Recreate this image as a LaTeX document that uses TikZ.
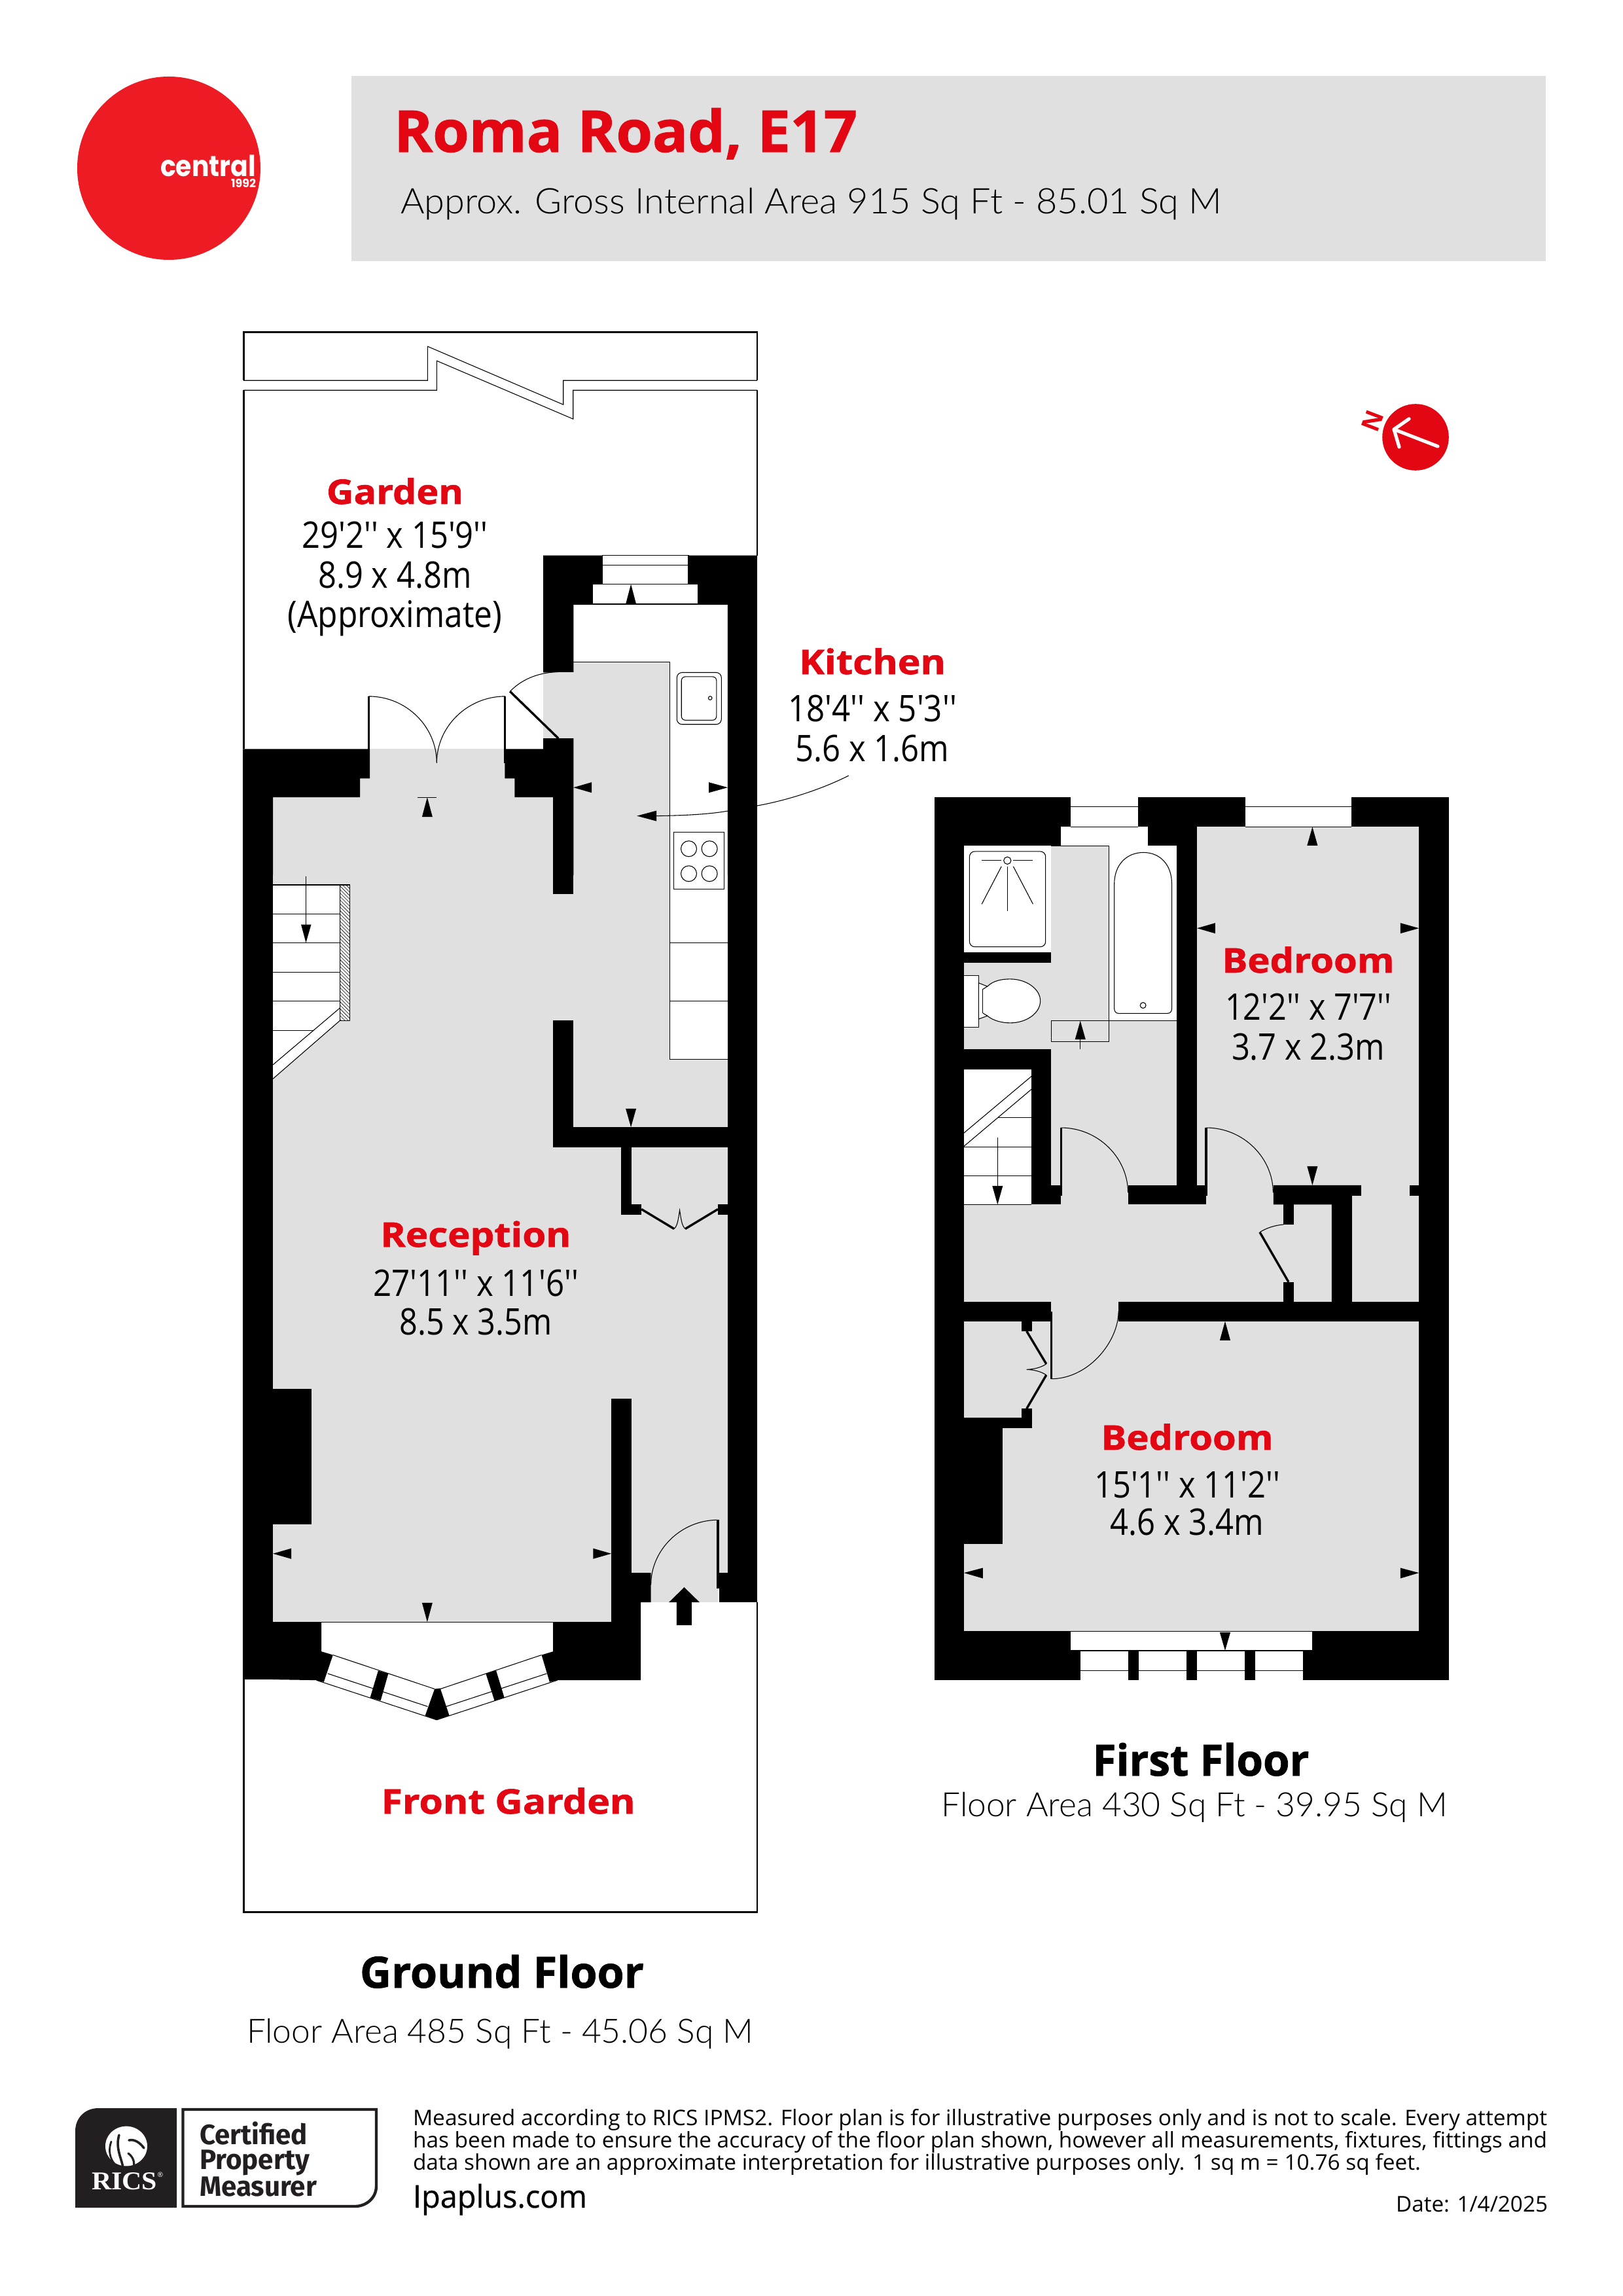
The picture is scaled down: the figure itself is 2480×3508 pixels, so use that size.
\documentclass[tikz,border=0pt]{standalone}
\usepackage{fontspec}
\usepackage{graphicx}
\setmainfont{Open Sans}
\newfontfamily\dimfont{Open Sans}
\newfontfamily\latofont{Lato Light}
\newfontfamily\popfont{Poppins}
\newfontfamily\firafont{Fira Sans}
\newfontfamily\timesfont{Liberation Serif}
\newfontfamily\heavyfont{Open Sans}[BoldFeatures={FakeBold=1.2}]
\newfontfamily\urlfont{Open Sans}[FakeBold=0.6]
\definecolor{plangray}{HTML}{E0E0E0}
\definecolor{planred}{HTML}{E30613}
\definecolor{logored}{HTML}{ED1C24}
\definecolor{ricsdark}{HTML}{231F20}
\newsavebox\fitb
\newcommand\fitx[2]{\sbox\fitb{#2}\pgfmathsetmacro\myfr{#1*0.25/\the\wd\fitb}\scalebox{\myfr}[1]{\usebox\fitb}}
\newcommand\tipU[3]{\fill (#1,#2)--(#1-15,#2+#3)--(#1+15,#2+#3)--cycle;}
\newcommand\tipD[3]{\fill (#1,#2)--(#1-15,#2-#3)--(#1+15,#2-#3)--cycle;}
\newcommand\tipL[3]{\fill (#1,#2)--(#1+#3,#2-15)--(#1+#3,#2+15)--cycle;}
\newcommand\tipR[3]{\fill (#1,#2)--(#1-#3,#2-15)--(#1-#3,#2+15)--cycle;}
\tikzset{
  zn/.style 2 args={shift={(#1,#2)},x=0.13393pt,y=-0.13393pt},
  zv/.style 2 args={shift={(#1,#2)},x=0.13393pt,y=-0.11161pt},
  finer/.style={line width=.27pt,black},
  leaf/.style={line width=.85pt,black},
  edge/.style={line width=.7pt,black},
  lbl/.style={inner sep=0pt,outer sep=0pt,anchor=base},
  roomname/.style={lbl,text=planred,font=\heavyfont\fontsize{13}{15}\selectfont\bfseries},
  roomdim/.style={lbl,text=black,font=\dimfont\fontsize{14}{16}\selectfont},
  floorname/.style={lbl,text=black,font=\heavyfont\fontsize{16.5}{19}\selectfont\bfseries},
  floorarea/.style={lbl,text=black,font=\latofont\fontsize{12.8}{15}\selectfont},
  finept/.style={inner sep=0pt,outer sep=0pt,anchor=base west,text=black,font=\fontsize{8.2}{9}\selectfont},
  certtext/.style={inner sep=0pt,outer sep=0pt,anchor=base west,text=ricsdark,font=\firafont\fontsize{10.7}{12}\selectfont\bfseries},
}
\begin{document}
\begin{tikzpicture}[x=0.25pt,y=-0.25pt]
\useasboundingbox (0,0) rectangle (2480,3508);
\fill[white] (0,0) rectangle (2480,3508);
% header
\fill[plangray] (537,116) rectangle (2362,399);
\fill[logored] (258,257) circle [radius=35pt];
\node (logoword) [inner sep=0pt,outer sep=0pt,anchor=base east,text=white,font=\popfont\fontsize{11}{12}\selectfont\bfseries] at (391,270) {\fitx{146}{central}};
\node (logoyear) [inner sep=0pt,outer sep=0pt,anchor=base east,text=white,font=\popfont\fontsize{4.4}{5}\selectfont\bfseries] at (391,287) {\fitx{38}{1992}};
\node (title) [inner sep=0pt,outer sep=0pt,anchor=base west,text=planred,font=\heavyfont\fontsize{22}{25}\selectfont\bfseries] at (602,232) {\fitx{708}{Roma Road, E17}};
\node (subtitle) [inner sep=0pt,outer sep=0pt,anchor=base west,text=black,font=\latofont\fontsize{13.5}{16}\selectfont] at (612,327) {\fitx{1255}{Approx. Gross Internal Area 915 Sq Ft - 85.01 Sq M}};
% compass
\fill[planred] (2163,668) circle [radius=12.7pt];
\draw[white,line width=1.3pt,line cap=round,line join=round] (2153,640)--(2130,656)--(2138,683);
\draw[white,line width=1.3pt,line cap=round] (2130,656)--(2197,682);
\node (northmark) [inner sep=0pt,outer sep=0pt,text=planred,rotate=69,font=\fontsize{9.5}{10}\selectfont\bfseries] at (2097,643) {N};
% ---------- ground floor
\begin{scope}[zn={340}{480}]
  % floor fill
  \fill[plangray] (144,1378) rectangle (1441,3590);
  \fill[plangray] (144,3590) rectangle (1109,3730);
  \fill[plangray] (1222,3590) rectangle (1413,3674);
  \fill[plangray] (392,1324) rectangle (833,1378);
  \fill[plangray] (420,1240) rectangle (805,1324);
  \fill[plangray] (1001,992) rectangle (1276,1400);
  \fill[plangray] (915,1022) rectangle (1001,1210);
  % counter
  \fill[white] (1276,992) rectangle (1441,2125);
  \draw[finer] (1001,992)--(1276,992)--(1276,2125)--(1441,2125);
  % garden outline
  \draw[edge] (60,189)--(60,52)--(1525,52)--(1525,189);
  \draw[edge] (60,217)--(60,1240);
  \draw[edge] (1525,217)--(1525,688);
  \draw[finer] (60,189)--(585,189)--(585,92)--(972,258)--(972,189)--(1525,189);
  \draw[finer] (60,217)--(611,217)--(611,133)--(1000,299)--(1000,217)--(1525,217);
  % walls
  \fill (58,1240)--(420,1240)--(420,1324)--(392,1324)--(392,1378)--(144,1378)--(144,1600)--(58,1600)--cycle;
  \fill (805,1240)--(915,1240)--(915,1210)--(1001,1210)--(1001,1600)--(943,1600)--(943,1378)--(833,1378)--(833,1324)--(805,1324)--cycle;
  \fill (915,688)--(1083,688)--(1083,770)--(1055,770)--(1055,827)--(1001,827)--(1001,1020)--(915,1022)--cycle;
  \fill (1329,688)--(1525,688)--(1525,1600)--(1441,1600)--(1441,827)--(1357,827)--(1357,770)--(1329,770)--cycle;
  % window
  \draw[finer] (1083,688) rectangle (1329,770);
  \draw[finer] (1083,716)--(1329,716);
  \draw[finer] (1055,770) rectangle (1357,827);
  \draw[finer] (1001,827)--(1441,827);
  \tipU{1165}{770}{57}
  % garden doors
  \draw[leaf] (417,1090)--(417,1280);
  \draw[leaf] (806,1090)--(806,1280);
  \draw[finer] (417,1090) .. controls (523,1090) and (611,1175) .. (611,1280);
  \draw[finer] (806,1090) .. controls (700,1090) and (611,1175) .. (611,1280);
  % back door
  \draw[leaf] (820,1076)--(958,1210);
  \draw[finer] (820,1076) .. controls (860,1035) and (910,1022) .. (958,1020)--(1001,1020);
  % arrows
  \draw[finer] (556,1378)--(610,1378);
  \tipU{584}{1378}{56}
  \tipL{1001}{1350}{52}
  \tipR{1441}{1350}{54}
  % sink
  \draw[finer,rounded corners=2pt] (1296,1022) rectangle (1423,1170);
  \draw[finer,rounded corners=1.5pt] (1309,1034) rectangle (1409,1158);
  \draw[finer] (1391,1095) circle [radius=0.7pt];
  % kitchen leader
  \tipL{1182}{1431}{56}
  \draw[finer] (1238,1431) .. controls (1320,1430) and (1390,1426) .. (1441,1417);
  \draw[finer] (1525,1402) .. controls (1620,1385) and (1720,1350) .. (1786,1316);
\end{scope}
\begin{scope}[zn={340}{1300}]
  \fill (58,-80) rectangle (144,1540);
  \fill (1441,-80) rectangle (1525,1540);
  \fill (943,-80) rectangle (1001,124);
  \fill (943,483) rectangle (1001,845);
  \fill (943,788) rectangle (1441,845);
  \fill (1137,845) rectangle (1167,1037);
  \fill (1137,1008) rectangle (1195,1037);
  \fill (1413,1008) rectangle (1441,1037);
  \tipD{1165}{788}{53}
  % cupboard doors
  \draw[leaf] (1195,1022)--(1288,1078);
  \draw[leaf] (1413,1022)--(1320,1078);
  \draw[finer] (1288,1078) .. controls (1298,1070) and (1300,1050) .. (1304,1025) .. controls (1308,1050) and (1310,1070) .. (1320,1078);
  % counter divisions and hob
  \draw[finer] (1276,262)--(1441,262);
  \draw[finer] (1276,428)--(1441,428);
  \draw[finer] (1287,-53) rectangle (1431,110);
  \foreach \hx in {1330,1389}{
    \draw[finer] (\hx,-6) circle [radius=3pt];
    \draw[finer] (\hx,65) circle [radius=3pt];
  }
  % stairs
  \fill[white] (144,97)--(335,97)--(335,484)--(144,650)--cycle;
  \fill[white] (335,97) rectangle (363,484);
  \foreach \ty in {180,262,346,428}{\draw[finer] (144,\ty)--(335,\ty);}
  \draw[finer] (144,512)--(260,512);
  \draw[finer] (144,97)--(335,97);
  \draw[finer] (335,97) rectangle (363,484);
  \draw[finer] (144,610)--(335,448);
  \draw[finer] (144,650)--(335,484);
  \begin{scope}
    \clip (335,97) rectangle (363,484);
    \foreach \hy in {60,70,...,480}{\draw[line width=.15pt] (335,\hy)--(363,\hy+28);}
  \end{scope}
  \draw[finer] (238,72)--(238,215);
  \fill (238,262)--(224,210)--(253,210)--cycle;
\end{scope}
\begin{scope}[zn={340}{2100}]
  \fill (58,-60) rectangle (144,870);
  \fill (1441,-60) rectangle (1525,566);
  \fill (144,41) rectangle (254,428);
  \fill (1109,69) rectangle (1167,706);
  \fill (144,706) rectangle (282,870);
  \fill (282,706)--(282,790)--(315,800)--(289,877)--(268,872)--(144,870)--cycle;
  \fill (943,706)--(943,790)--(910,800)--(933,877)--(955,872)--(1193,872)--(1193,650)--(1222,650)--(1222,566)--(1167,566)--(1167,706)--cycle;
  \fill (1109,700) rectangle (1193,872);
  \fill (1417,566) rectangle (1525,650);
  % bay
  \draw[finer] (144,706)--(1109,706);
  \draw[finer] (315,800)--(605,897);
  \draw[finer] (300,853)--(585,947);
  \draw[finer] (268,872)--(611,985);
  \draw[finer] (910,800)--(621,897);
  \draw[finer] (925,853)--(638,947);
  \draw[finer] (955,872)--(611,985);
  \fill (444,845)--(473,853)--(451,930)--(421,922)--cycle;
  \fill (751,853)--(780,843)--(804,922)--(776,931)--cycle;
  \fill (605,897)--(621,895)--(647,973)--(611,986)--(578,973)--cycle;
  % entry
  \draw[leaf] (1413,415)--(1413,610);
  \draw[finer] (1413,415) .. controls (1308,415) and (1222,500) .. (1222,600);
  \fill (1317,607)--(1361,650)--(1338,650)--(1338,715)--(1295,715)--(1295,650)--(1273,650)--cycle;
  % arrows
  \tipL{144}{511}{52}
  \tipR{1109}{511}{52}
  \tipD{584}{706}{55}
  % front garden
  \draw[edge] (60,870)--(60,1533)--(1525,1533)--(1525,650);
\end{scope}
% ---------- first floor
\fill (1428,1218) rectangle (2214,2567);
\begin{scope}[zn={1400}{1190}]
  \fill[plangray] (385,191) rectangle (743,1159);
  \fill[plangray] (413,1159) rectangle (605,1214);
  \fill[plangray] (136,525) rectangle (385,771);
  \fill[plangray] (136,1214) rectangle (1185,1491);
  \fill[plangray] (827,1159) rectangle (1019,1214);
  \fill[plangray] (801,137) rectangle (1434,1159);
  \fill[plangray] (1243,1159) rectangle (1434,1491);
  \fill (1019,1159)--(1269,1159)--(1269,1189)--(1243,1189)--(1243,1491)--(1185,1491)--(1185,1214)--(1019,1214)--cycle;
  \fill (1048,1214) rectangle (1077,1271);
  \fill (1048,1435) rectangle (1077,1491);
  \fill (1407,1159) rectangle (1434,1189);
  % windows
  \fill[white] (441,52) rectangle (633,137);
  \fill[white] (413,137) rectangle (661,191);
  \draw[finer] (441,80)--(633,80);
  \draw[finer] (441,137)--(633,137);
  \fill[white] (939,52) rectangle (1241,137);
  \draw[finer] (939,80)--(1241,80);
  \draw[finer] (939,137)--(1241,137);
  \draw[finer] (385,191)--(743,191);
  % shower
  \fill[white] (136,191) rectangle (385,495);
  \draw[finer,rounded corners=2pt] (152,207) rectangle (369,479);
  \draw[finer] (260,233) circle [radius=1.4pt];
  \draw[finer] (187,232)--(243,232);
  \draw[finer] (277,232)--(333,232);
  \draw[finer] (260,250)--(260,377);
  \draw[finer] (243,250)--(187,357);
  \draw[finer] (277,250)--(333,357);
  % bath
  \fill[white] (550,191) rectangle (743,690);
  \draw[finer] (550,191)--(550,749)--(385,749)--(385,690)--(743,690);
  \draw[finer] (565,300) .. controls (565,245) and (600,210) .. (648,210) .. controls (696,210) and (729,245) .. (729,300)--(729,655) .. controls (729,664) and (724,669) .. (716,669)--(578,669) .. controls (570,669) and (565,664) .. (565,655)--cycle;
  \draw[finer] (647,646) circle [radius=1.1pt];
  % toilet
  \draw[finer,fill=white] (136,561) rectangle (178,708);
  \draw[finer,fill=white] (178,582)--(203,592) .. controls (220,575) and (245,571) .. (268,571) .. controls (315,571) and (354,600) .. (354,633) .. controls (354,668) and (315,696) .. (268,696) .. controls (245,696) and (220,690) .. (203,676)--(178,685)--cycle;
  \draw[finer] (190,600)--(190,668);
  \draw[finer] (190,600)--(203,592);
  \draw[finer] (190,668)--(203,676);
  % landing arrow
  \tipU{468}{690}{53}
  \draw[finer] (468,740)--(468,771);
  % stairs
  \fill[white] (136,829) rectangle (329,1214);
  \draw[finer] (136,1010)--(329,848);
  \draw[finer] (136,1048)--(329,885);
  \draw[finer] (233,966)--(329,966);
  \draw[finer] (136,1050)--(329,1050);
  \draw[finer] (136,1132)--(329,1132);
  \draw[finer] (136,1214)--(329,1214);
  \draw[finer] (232,1023)--(232,1165);
  \tipD{232}{1214}{53}
  % doors
  \draw[leaf] (413,995)--(413,1189);
  \draw[finer] (413,995) .. controls (518,995) and (604,1080) .. (604,1180);
  \draw[leaf] (827,995)--(827,1189);
  \draw[finer] (827,995) .. controls (932,995) and (1018,1080) .. (1018,1180);
  \draw[leaf] (980,1293)--(1062,1435);
  \draw[finer] (980,1293) .. controls (1000,1280) and (1025,1273) .. (1048,1271);
  % markers
  \tipU{1130}{137}{53}
  \tipL{801}{426}{52}
  \tipR{1434}{426}{53}
  \tipD{1130}{1159}{54}
\end{scope}
\begin{scope}[zv={1400}{1900}]
  \fill[plangray] (385,199) rectangle (577,266);
  \fill[plangray] (136,266) rectangle (1434,1327);
  \fill (136,596) rectangle (330,631);
  \fill (136,631) rectangle (246,1029);
  \fill (301,266) rectangle (330,300);
  \fill (301,565) rectangle (330,631);
  \draw[leaf] (315,300)--(371,412);
  \draw[leaf] (315,565)--(371,450);
  \draw[finer] (371,412) .. controls (355,425) and (335,430) .. (315,431) .. controls (335,432) and (355,437) .. (371,450);
  \draw[leaf] (385,232)--(385,463);
  \draw[finer] (385,463) .. controls (491,463) and (577,336) .. (577,232);
  \tipU{881}{266}{65}
  \fill (136,1127)--(190,1110)--(190,1146)--cycle;
  \fill (1434,1127)--(1381,1110)--(1381,1146)--cycle;
  % window
  \fill[white] (441,1327) rectangle (1129,1392);
  \draw[finer] (136,1327)--(1434,1327);
  \foreach \px in {469,635,801,967}{
    \fill[white] (\px,1396) rectangle (\px+136,1494);
    \draw[finer] (\px,1461)--(\px+136,1461);
  }
  \tipD{881}{1393}{62}
\end{scope}
% room labels
\node (gardenname) [roomname] at (603.5,770) {\fitx{209}{Garden}};
\node (gardendim) [roomdim] at (603.5,838) {\fitx{284}{29'2'' x 15'9''}};
\node (gardenm) [roomdim] at (603.5,899) {\fitx{234}{8.9 x 4.8m}};
\node (gardenapp) [roomdim] at (603.5,959) {\fitx{328}{(Approximate)}};
\node (kitchenname) [roomname] at (1333,1030) {\fitx{224}{Kitchen}};
\node (kitchendim) [roomdim] at (1333,1102) {\fitx{258}{18'4'' x 5'3''}};
\node (kitchenm) [roomdim] at (1333,1163) {\fitx{235}{5.6 x 1.6m}};
\node (recepname) [roomname] at (727,1905) {\fitx{291}{Reception}};
\node (recepdim) [roomdim] at (727,1980) {\fitx{314}{27'11'' x 11'6''}};
\node (recepm) [roomdim] at (727,2039) {\fitx{233}{8.5 x 3.5m}};
\node (frontname) [roomname] at (776.6,2771) {\fitx{388}{Front Garden}};
\node (bedonename) [roomname] at (1999,1486) {\fitx{263}{Bedroom}};
\node (bedonedim) [roomdim] at (1999,1558) {\fitx{254}{12'2'' x 7'7''}};
\node (bedonem) [roomdim] at (1999,1619) {\fitx{234}{3.7 x 2.3m}};
\node (bedtwoname) [roomname] at (1814,2215) {\fitx{263}{Bedroom}};
\node (bedtwodim) [roomdim] at (1814,2288) {\fitx{284}{15'1'' x 11'2''}};
\node (bedtwom) [roomdim] at (1814,2345) {\fitx{235}{4.6 x 3.4m}};
\node (groundname) [floorname] at (767,3037) {\fitx{434}{Ground Floor}};
\node (groundarea) [floorarea] at (764,3121) {\fitx{774}{Floor Area 485 Sq Ft - 45.06 Sq M}};
\node (firstname) [floorname] at (1835,2713) {\fitx{331}{First Floor}};
\node (firstarea) [floorarea] at (1825,2775) {\fitx{773}{Floor Area 430 Sq Ft - 39.95 Sq M}};
% footer: RICS badge
\fill[ricsdark] (115,3373)--(115,3256) .. controls (115,3236) and (130,3221) .. (150,3221)--(270,3221)--(270,3373)--cycle;
\draw[ricsdark,line width=1.1pt] (279.5,3223)--(575,3223)--(575,3340) .. controls (575,3358) and (560,3371) .. (542,3371)--(279.5,3371)--cycle;
\fill[white] (193,3279) ellipse [x radius=8pt,y radius=7.6pt];
\draw[ricsdark,line width=.9pt,line cap=round] (182,3262) .. controls (176,3282) and (186,3298) .. (188,3312);
\draw[ricsdark,line width=.9pt,line cap=round] (197,3270) .. controls (206,3268) and (214,3274) .. (220,3282);
\draw[ricsdark,line width=.8pt,line cap=round] (196,3290) .. controls (204,3296) and (206,3304) .. (204,3312);
\draw[ricsdark,line width=.7pt,line cap=round] (170,3272) .. controls (165,3285) and (168,3298) .. (175,3306);
\node (ricsword) [lbl,text=white,font=\timesfont\fontsize{9.8}{10}\selectfont\bfseries] at (190,3345) {\fitx{100}{RICS}};
\node (ricsreg) [inner sep=0pt,text=white,font=\fontsize{2.6}{3}\selectfont] at (245,3323) {®};
\node (certa) [certtext] at (305,3276) {\fitx{165}{Certified}};
\node (certb) [certtext] at (305,3314) {\fitx{168}{Property}};
\node (certc) [certtext] at (305,3355) {\fitx{179}{Measurer}};
\node (finea) [finept] at (631,3247) {\fitx{1733}{Measured according to RICS IPMS2. Floor plan is for illustrative purposes only and is not to scale. Every attempt}};
\node (fineb) [finept] at (631,3281) {\fitx{1733}{has been made to ensure the accuracy of the floor plan shown, however all measurements, fixtures, fittings and}};
\node (finec) [finept] at (631,3315) {\fitx{1540}{data shown are an approximate interpretation for illustrative purposes only. 1 sq m = 10.76 sq feet.}};
\node (lpaurl) [inner sep=0pt,outer sep=0pt,anchor=base west,font=\urlfont\fontsize{12}{14}\selectfont] at (631,3373) {\fitx{266}{Ipaplus.com}};
\node (datestamp) [inner sep=0pt,outer sep=0pt,anchor=base east,font=\fontsize{8.3}{9}\selectfont] at (2365,3379) {\fitx{232}{Date: 1/4/2025}};
\end{tikzpicture}
\end{document}
